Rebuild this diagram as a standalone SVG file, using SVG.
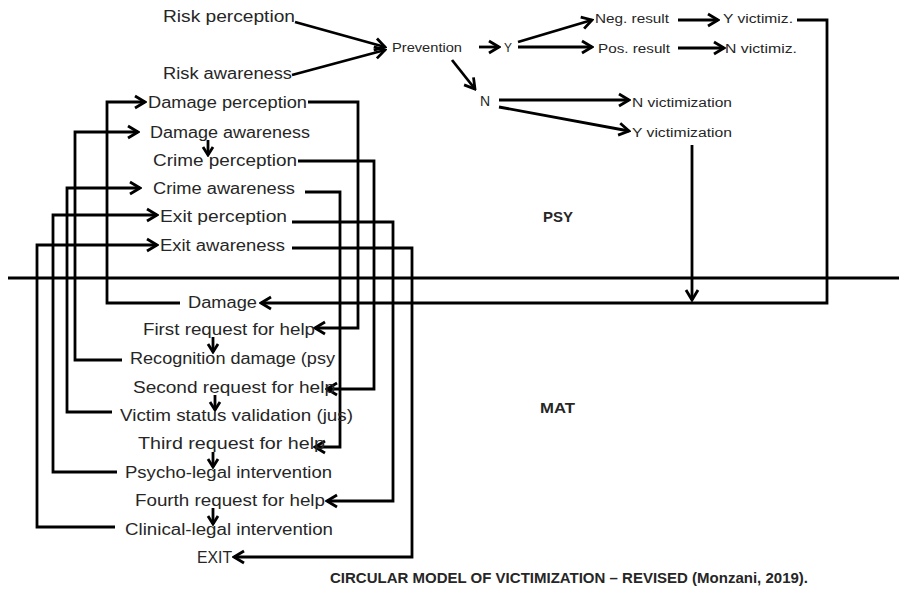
<svg xmlns="http://www.w3.org/2000/svg" width="899" height="596" viewBox="0 0 899 596">
<style>
text{font-family:"Liberation Sans",Arial,sans-serif;fill:#262626;}
.t16{font-size:16px;}
.t12{font-size:12px;}
.b{font-weight:bold;}
.c{fill:none;stroke:#000;stroke-width:2.8;stroke-linejoin:miter;}
.s{marker-end:url(#ah);}
.m{marker-end:url(#ahs);}
</style>
<defs>
<marker id="ah" viewBox="-12 -8 14 16" refX="0" refY="0" markerWidth="14" markerHeight="16" markerUnits="userSpaceOnUse" orient="auto">
<path d="M-10,-6 L0,0 L-10,6" fill="none" stroke="#000" stroke-width="2.8"/>
</marker>
<marker id="ahs" viewBox="-10 -7 12 14" refX="0" refY="0" markerWidth="12" markerHeight="14" markerUnits="userSpaceOnUse" orient="auto">
<path d="M-8,-5 L0,0 L-8,5" fill="none" stroke="#000" stroke-width="2.8"/>
</marker>
</defs>
<rect width="899" height="596" fill="#fff"/>
<g id="connectors">
<path class="c" d="M8,278 L899,278" stroke-width="3.2"/>
<path class="c s" d="M295,22 L385,47"/>
<path class="c s" d="M292,75 L385,50"/>
<path class="c s" d="M479,47 L499,47"/>
<path class="c s" d="M452,60 L475,89"/>
<path class="c s" d="M518,42 L592,20"/>
<path class="c s" d="M518,47 L592,47"/>
<path class="c s" d="M678,20 L718,20"/>
<path class="c s" d="M678,48 L724,48"/>
<path class="c s" d="M499,100 L629,100"/>
<path class="c s" d="M499,107 L629,131"/>
<path class="c s" d="M797,20 L827,20 L827,303 L261,303"/>
<path class="c s" d="M692,145 L692,300"/>
<path class="c s" d="M180,303 L107,303 L107,102 L145,102"/>
<path class="c s" d="M308,102 L358,102 L358,328 L315,328"/>
<path class="c s" d="M122,360 L75,360 L75,132 L138,132"/>
<path class="c m" d="M208,140 L208,155"/>
<path class="c s" d="M298,161 L374,161 L374,389 L327,389"/>
<path class="c s" d="M112,412 L67,412 L67,188 L140,188"/>
<path class="c s" d="M305,192 L340,192 L340,447 L315,447"/>
<path class="c s" d="M117,472 L53,472 L53,215 L157,215"/>
<path class="c s" d="M292,222 L393,222 L393,501 L327,501"/>
<path class="c s" d="M115,527 L37,527 L37,245 L157,245"/>
<path class="c s" d="M292,248 L412,248 L412,557 L234,557"/>
<path class="c m" d="M213,337 L213,352"/>
<path class="c m" d="M215,395 L215,410"/>
<path class="c m" d="M213,452 L213,467"/>
<path class="c m" d="M213,508 L213,524"/>
</g>
<g id="risk-perception"><text class="t16" x="163" y="22" textLength="132" lengthAdjust="spacingAndGlyphs">Risk perception</text></g>
<g id="risk-awareness"><text class="t16" x="163" y="79" textLength="129" lengthAdjust="spacingAndGlyphs">Risk awareness</text></g>
<g id="prevention"><text class="t12" x="392" y="52" textLength="70" lengthAdjust="spacingAndGlyphs">Prevention</text></g>
<g id="y"><text class="t12" x="504" y="52">Y</text></g>
<g id="n"><text x="480" y="106" style="font-size:14px">N</text></g>
<g id="neg-result"><text class="t12" x="595" y="23" textLength="74" lengthAdjust="spacingAndGlyphs">Neg. result</text></g>
<g id="y-victimiz"><text class="t12" x="723" y="23" textLength="70" lengthAdjust="spacingAndGlyphs">Y victimiz.</text></g>
<g id="pos-result"><text class="t12" x="598" y="53" textLength="72" lengthAdjust="spacingAndGlyphs">Pos. result</text></g>
<g id="n-victimiz"><text class="t12" x="725" y="53" textLength="72" lengthAdjust="spacingAndGlyphs">N victimiz.</text></g>
<g id="n-victimization"><text class="t12" x="632" y="107" textLength="100" lengthAdjust="spacingAndGlyphs">N victimization</text></g>
<g id="y-victimization"><text class="t12" x="632" y="137" textLength="100" lengthAdjust="spacingAndGlyphs">Y victimization</text></g>
<g id="damage-perception"><text class="t16" x="148" y="108" textLength="159" lengthAdjust="spacingAndGlyphs">Damage perception</text></g>
<g id="damage-awareness"><text class="t16" x="150" y="138" textLength="160" lengthAdjust="spacingAndGlyphs">Damage awareness</text></g>
<g id="crime-perception"><text class="t16" x="153" y="166" textLength="144" lengthAdjust="spacingAndGlyphs">Crime perception</text></g>
<g id="crime-awareness"><text class="t16" x="153" y="194" textLength="142" lengthAdjust="spacingAndGlyphs">Crime awareness</text></g>
<g id="exit-perception"><text class="t16" x="160" y="222" textLength="127" lengthAdjust="spacingAndGlyphs">Exit perception</text></g>
<g id="exit-awareness"><text class="t16" x="160" y="251" textLength="125" lengthAdjust="spacingAndGlyphs">Exit awareness</text></g>
<g id="psy"><text class="b" x="543" y="222" style="font-size:14px" textLength="30" lengthAdjust="spacingAndGlyphs">PSY</text></g>
<g id="mat"><text class="b" x="540" y="413" style="font-size:14px" textLength="35" lengthAdjust="spacingAndGlyphs">MAT</text></g>
<g id="damage"><text class="t16" x="188" y="308" textLength="69" lengthAdjust="spacingAndGlyphs">Damage</text></g>
<g id="first-request"><text class="t16" x="143" y="335" textLength="172" lengthAdjust="spacingAndGlyphs">First request for help</text></g>
<g id="recognition-damage"><text class="t16" x="130" y="364" textLength="205" lengthAdjust="spacingAndGlyphs">Recognition damage (psy</text></g>
<g id="second-request"><text class="t16" x="133" y="393" textLength="202" lengthAdjust="spacingAndGlyphs">Second request for help</text></g>
<g id="victim-status"><text class="t16" x="120" y="421" textLength="233" lengthAdjust="spacingAndGlyphs">Victim status validation (jus)</text></g>
<g id="third-request"><text class="t16" x="138" y="449" textLength="187" lengthAdjust="spacingAndGlyphs">Third request for help</text></g>
<g id="psycho-legal"><text class="t16" x="125" y="478" textLength="207" lengthAdjust="spacingAndGlyphs">Psycho-legal intervention</text></g>
<g id="fourth-request"><text class="t16" x="135" y="506" textLength="190" lengthAdjust="spacingAndGlyphs">Fourth request for help</text></g>
<g id="clinical-legal"><text class="t16" x="125" y="535" textLength="208" lengthAdjust="spacingAndGlyphs">Clinical-legal intervention</text></g>
<g id="exit"><text class="t16" x="197" y="563" textLength="35" lengthAdjust="spacingAndGlyphs">EXIT</text></g>
<g id="caption"><text class="b" x="330" y="583" style="font-size:15px" textLength="478" lengthAdjust="spacingAndGlyphs">CIRCULAR MODEL OF VICTIMIZATION – REVISED (Monzani, 2019).</text></g>
</svg>
